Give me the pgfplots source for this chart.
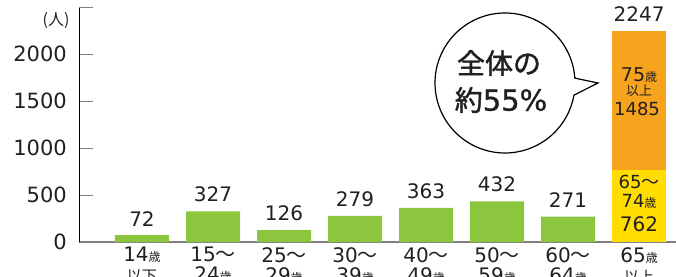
\documentclass[border=0pt]{standalone}
\usepackage{pgfplots}
\pgfplotsset{compat=1.18}
\usepackage{fontspec}
\setmainfont{DejaVu Sans}
\newfontfamily\cjk{Noto Sans CJK JP}
\newfontfamily\cjkb{Noto Sans CJK JP}[FakeBold=1.5]
\newfontfamily\djb{DejaVu Sans}[FakeBold=1.0]
\definecolor{gcol}{HTML}{8CC63F}
\definecolor{ycol}{HTML}{FFDD00}
\definecolor{ocol}{HTML}{F6A31E}
\definecolor{txt}{HTML}{231F20}
\newcommand{\fs}[1]{\fontsize{#1bp}{#1bp}\selectfont}
\newcommand{\sai}{{\cjk\fs{12}歳}}
\newcommand{\wave}{{\cjk 〜}}
\begin{document}
\begin{tikzpicture}[x=1bp,y=1bp]
\clip (0,0) rectangle (676,276);
\begin{axis}[
  at={(79bp,34bp)}, anchor=south west,
  scale only axis, width=597bp, height=235bp,
  xmin=-0.887, xmax=7.52, ymin=0, ymax=2500,
  axis x line=bottom, axis y line=left,
  x axis line style={draw=gray, line width=1.3bp, -},
  y axis line style={draw=black, line width=1bp, -},
  ytick={0,500,1000,1500,2000},
  extra y ticks={2500}, extra y tick labels={},
  extra y tick style={major tick style={draw=black, line width=1bp}},
  ytick style={draw=gray, line width=0.9bp},
  major tick length=14bp, tick align=inside,
  yticklabel style={font=\fs{21}, text=txt, inner sep=0pt, xshift=-12bp},
  xtick={0,...,7}, xtick style={draw=none},
  xticklabels={{14\sai\\{\cjk\fs{15}以下}},{15\wave\\24\sai},{25\wave\\29\sai},{30\wave\\39\sai},{40\wave\\49\sai},{50\wave\\59\sai},{60\wave\\64\sai},{65\sai\\{\cjk\fs{15}以上}}},
  xticklabel style={font=\fs{20}, text=txt, align=center, anchor=north, inner sep=0pt, yshift=-5bp},
  /pgf/number format/1000 sep={},
  /pgf/number format/assume math mode=true,
  nodes near coords align={vertical},
  every node near coord/.append style={font=\fs{20}, text=txt, inner sep=0pt, yshift=9bp, anchor=south},
  clip=false,
]
\addplot[ybar, bar width=54bp, fill=gcol, draw=none, nodes near coords]
  coordinates {(0,72) (1,327) (2,126) (3,279) (4,363) (5,432) (6,271)};
\addplot[ybar, bar width=54bp, fill=ocol, draw=none, nodes near coords]
  coordinates {(7,2247)};
\addplot[ybar, bar width=54bp, fill=ycol, draw=none]
  coordinates {(7,762)};
\end{axis}
% unit label
\node[text=txt, inner sep=0pt] at (56,255) {\cjk\fs{16}(人)};
% labels inside the 65+ bar
\node[text=txt, inner sep=0pt] at (639,201) {\fs{19}75\sai};
\node[text=txt, inner sep=0pt] at (639,185) {\cjk\fs{13}以上};
\node[text=txt, inner sep=0pt] at (637,167) {\fs{18}1485};
\node[text=txt, inner sep=0pt] at (639,94) {\fs{18}65\wave};
\node[text=txt, inner sep=0pt] at (639,75) {\fs{18}74\sai};
\node[text=txt, inner sep=0pt] at (639,51.5) {\fs{20}762};
% speech bubble
\draw[fill=white, line width=1.2bp, line join=miter]
  (505,193) ++(4:70) arc[start angle=4, end angle=350, radius=70] -- (598,193) -- cycle;
\node[text=txt, inner sep=0pt] at (499,213) {\cjkb\fs{28}全体の};
\node[text=txt, inner sep=0pt] at (501,176) {{\cjkb\fs{28}約}\djb\fs{29}55\%};
\end{tikzpicture}
\end{document}
